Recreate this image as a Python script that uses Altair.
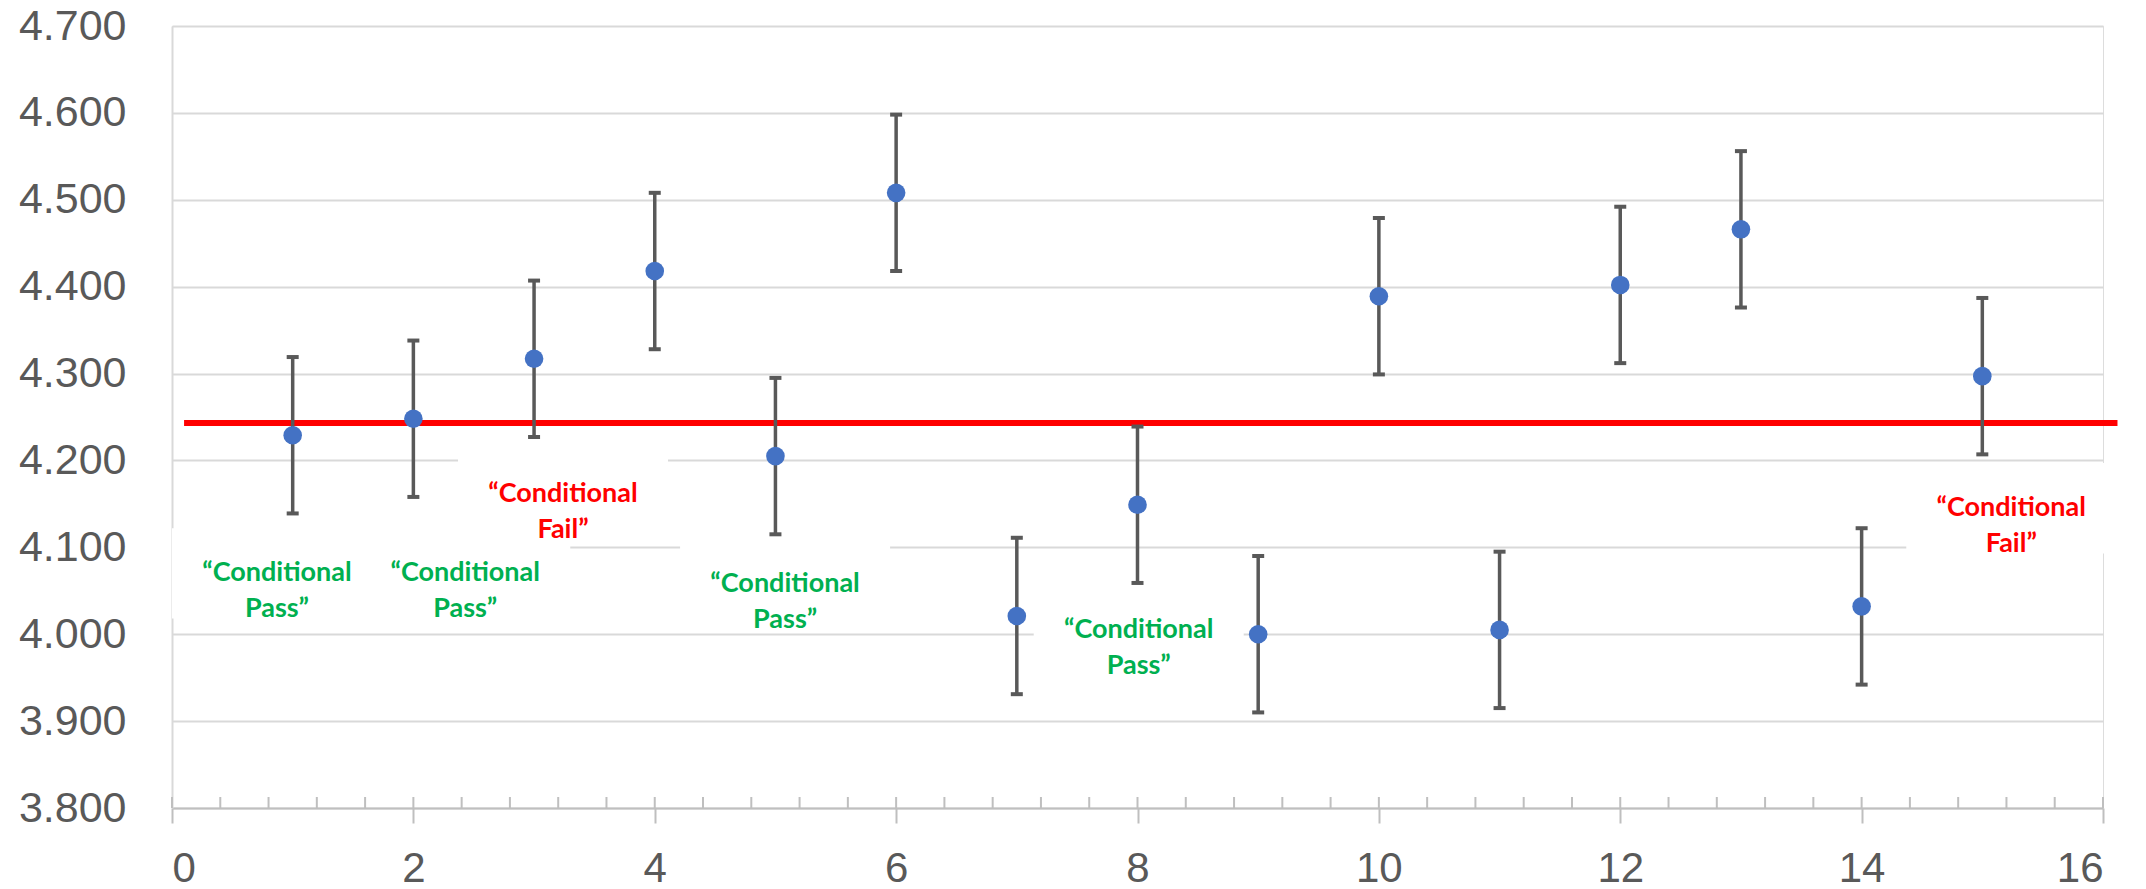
import altair as alt
import pandas as pd

# ---- data ----
sample = [1, 2, 3, 4, 5, 6, 7, 8, 9, 10, 11, 12, 13, 14, 15]
mean = [4.229, 4.248, 4.317, 4.418, 4.205, 4.508, 4.021, 4.149, 4.000,
        4.389, 4.005, 4.402, 4.466, 4.032, 4.297]
err = [0.090, 0.090, 0.090, 0.090, 0.090, 0.090, 0.090, 0.090, 0.090,
       0.090, 0.090, 0.090, 0.090, 0.090, 0.090]

threshold = 4.243
threshold_start = 0.10
threshold_end = 16.12

ann_x = [0.87, 2.43, 3.24, 5.08, 8.01, 15.24]
ann_y = [4.070, 4.070, 4.161, 4.058, 4.005, 4.145]
ann_text = ["“Conditional\nPass”", "“Conditional\nPass”", "“Conditional\nFail”",
            "“Conditional\nPass”", "“Conditional\nPass”", "“Conditional\nFail”"]
ann_color = ["#00B050", "#00B050", "#FF0000", "#00B050", "#00B050", "#FF0000"]

x_ticks = [0, 2, 4, 6, 8, 10, 12, 14, 16]
y_ticks = [3.8, 3.9, 4.0, 4.1, 4.2, 4.3, 4.4, 4.5, 4.6, 4.7]
minor_ticks = [round(i * 0.4, 1) for i in range(41)]

# ---- tables ----
df = pd.DataFrame({"x": sample, "mean": mean, "err": err})
df["lo"] = df["mean"] - df["err"]
df["hi"] = df["mean"] + df["err"]

BOX_HW = 0.87
BOX_HH = 0.052
ann = pd.DataFrame({"x": ann_x, "y": ann_y, "text": ann_text, "color": ann_color})
ann["x1"] = ann["x"] - BOX_HW
ann["x2"] = ann["x"] + BOX_HW
ann["y1"] = ann["y"] - BOX_HH
ann["y2"] = ann["y"] + BOX_HH

thr = pd.DataFrame({"x": [threshold_start], "x2": [threshold_end], "y": [threshold]})
minor = pd.DataFrame({"x": minor_ticks})

W, H = 1931, 782
AXIS_FONT = "Liberation Sans"

xs = alt.Scale(domain=[0, 16], nice=False, zero=False)
ys = alt.Scale(domain=[3.8, 4.7], nice=False, zero=False)
ax_x = alt.Axis(values=x_ticks, title=None, grid=False, format="d",
                domainColor="#BFBFBF", domainWidth=2,
                tickColor="#BFBFBF", tickWidth=2, tickSize=15,
                labelFont=AXIS_FONT, labelFontSize=42, labelColor="#595959",
                labelPadding=25)
ax_y = alt.Axis(values=y_ticks, title=None, format=".3f", ticks=False,
                grid=True, gridColor="#D9D9D9", gridWidth=2,
                domainColor="#D9D9D9", domainWidth=2,
                labelFont=AXIS_FONT, labelFontSize=43, labelColor="#595959",
                labelPadding=46)

boxes = alt.Chart(ann).mark_rect(fill="white").encode(
    x=alt.X("x1:Q", scale=xs, axis=ax_x),
    x2="x2:Q",
    y=alt.Y("y1:Q", scale=ys, axis=ax_y),
    y2="y2:Q",
)

minor_rules = alt.Chart(minor).mark_rule(color="#BFBFBF", strokeWidth=2).encode(
    x=alt.X("x:Q", scale=xs, axis=ax_x),
    y=alt.value(H),
    y2=alt.value(H - 11),
)

red = alt.Chart(thr).mark_rule(color="#FF0000", strokeWidth=6).encode(
    x=alt.X("x:Q", scale=xs, axis=ax_x),
    x2="x2:Q",
    y=alt.Y("y:Q", scale=ys, axis=ax_y),
)

bars = alt.Chart(df).mark_rule(color="#595959", strokeWidth=3.5).encode(
    x=alt.X("x:Q", scale=xs, axis=ax_x),
    y=alt.Y("lo:Q", scale=ys, axis=ax_y),
    y2="hi:Q",
)

cap_lo = alt.Chart(df).mark_tick(color="#595959", orient="horizontal",
                                 size=12, thickness=4, opacity=1).encode(
    x=alt.X("x:Q", scale=xs, axis=ax_x),
    y=alt.Y("lo:Q", scale=ys, axis=ax_y),
)
cap_hi = alt.Chart(df).mark_tick(color="#595959", orient="horizontal",
                                 size=12, thickness=4, opacity=1).encode(
    x=alt.X("x:Q", scale=xs, axis=ax_x),
    y=alt.Y("hi:Q", scale=ys, axis=ax_y),
)

points = alt.Chart(df).mark_circle(color="#4472C4", size=346, opacity=1).encode(
    x=alt.X("x:Q", scale=xs, axis=ax_x),
    y=alt.Y("mean:Q", scale=ys, axis=ax_y),
)

labels = alt.Chart(ann).mark_text(
    font="Lato", fontWeight="bold", fontSize=27, lineHeight=36,
    lineBreak="\n", align="center", baseline="middle"
).encode(
    x=alt.X("x:Q", scale=xs, axis=ax_x),
    y=alt.Y("y:Q", scale=ys, axis=ax_y),
    text="text:N",
    color=alt.Color("color:N", scale=None),
)

chart = alt.layer(boxes, minor_rules, red, bars, cap_lo, cap_hi, points, labels).properties(
    width=W, height=H,
    autosize=alt.AutoSizeParams(type="none"),
    padding={"left": 164, "top": 18, "right": 24, "bottom": 85},
).configure_view(stroke=None).configure(background="white")

chart.save("out.html", embed_options={"renderer": "svg", "actions": False})
